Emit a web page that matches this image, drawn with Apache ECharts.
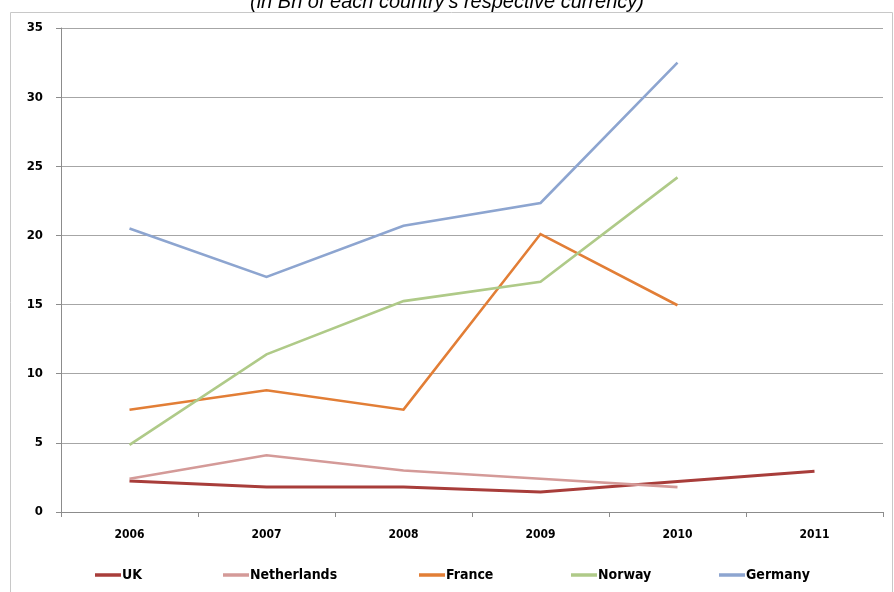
<!DOCTYPE html>
<html>
<head>
<meta charset="utf-8">
<script src="https://cdn.jsdelivr.net/npm/echarts@6/dist/echarts.min.js"></script>
<style>
  html, body { margin: 0; padding: 0; background: #fff; }
  #chart { width: 894px; height: 592px; }
</style>
</head>
<body>
<div id="chart"></div>
<script>
// Annual figures, in Bn of each country's own currency
const years = ['2006', '2007', '2008', '2009', '2010', '2011'];
const uk = [2.25, 1.8, 1.8, 1.45, 2.2, 2.95];
const netherlands = [2.4, 4.1, 3.0, 2.4, 1.8, null];
const france = [7.4, 8.8, 7.4, 20.1, 14.95, null];
const norway = [4.85, 11.4, 15.25, 16.65, 24.2, null];
const germany = [20.5, 17.0, 20.7, 22.35, 32.5, null];
const yTicks = [0, 5, 10, 15, 20, 25, 30, 35];

const seriesDefs = [
  { name: 'UK', data: uk, color: '#A83D3A', width: 3 },
  { name: 'Netherlands', data: netherlands, color: '#D49A98', width: 2.6 },
  { name: 'France', data: france, color: '#E27E36', width: 2.6 },
  { name: 'Norway', data: norway, color: '#AFCA88', width: 2.6 },
  { name: 'Germany', data: germany, color: '#8DA5D0', width: 2.6 }
];
const legendLeft = [90, 218, 414, 566, 714];

const font = '"DejaVu Sans Condensed", "Liberation Sans Narrow", "DejaVu Sans", sans-serif';

const chart = echarts.init(document.getElementById('chart'));
chart.setOption({
  animation: false,
  backgroundColor: '#fff',
  title: {
    text: "(in Bn of each country's respective currency)",
    left: 'center',
    top: -13,
    textStyle: { fontFamily: 'Liberation Sans, Arial, sans-serif', fontStyle: 'italic', fontWeight: 'normal', fontSize: 20, color: '#000' }
  },
  graphic: [{
    type: 'rect',
    shape: { x: 10.5, y: 12.5, width: 882, height: 600 },
    style: { fill: 'none', stroke: '#C8C8C8', lineWidth: 1 },
    silent: true, z: -1
  }],
  grid: { left: 61, right: 11, top: 28, bottom: 80 },
  legend: seriesDefs.map((s, i) => ({
    data: [s.name],
    left: legendLeft[i],
    top: 563,
    icon: 'rect',
    itemWidth: 26,
    itemHeight: 3.5,
    itemGap: 0,
    textStyle: { fontFamily: font, fontSize: 14, fontWeight: 'bold', color: '#000', padding: [0, 0, 0, -4] },
    selectedMode: false
  })),
  xAxis: {
    type: 'category',
    data: years,
    boundaryGap: true,
    axisLine: { lineStyle: { color: '#8C8C8C', width: 1 } },
    axisTick: { show: true, length: 5, interval: 0, lineStyle: { color: '#8C8C8C' } },
    axisLabel: { fontFamily: font, fontSize: 12, fontWeight: 'bold', color: '#000', margin: 17 }
  },
  yAxis: {
    type: 'value',
    min: yTicks[0],
    max: yTicks[yTicks.length - 1],
    interval: 5,
    axisLine: { show: true, lineStyle: { color: '#8C8C8C', width: 1 } },
    axisTick: { show: true, length: 5, lineStyle: { color: '#8C8C8C' } },
    splitLine: { lineStyle: { color: '#A6A6A6', width: 1 } },
    axisLabel: { fontFamily: font, fontSize: 13, fontWeight: 'bold', color: '#000', margin: 18 }
  },
  series: seriesDefs.map(s => ({
    name: s.name,
    type: 'line',
    data: s.data,
    symbol: 'none',
    color: s.color,
    connectNulls: false,
    lineStyle: { color: s.color, width: s.width, join: 'miter' }
  }))
});
</script>
</body>
</html>
